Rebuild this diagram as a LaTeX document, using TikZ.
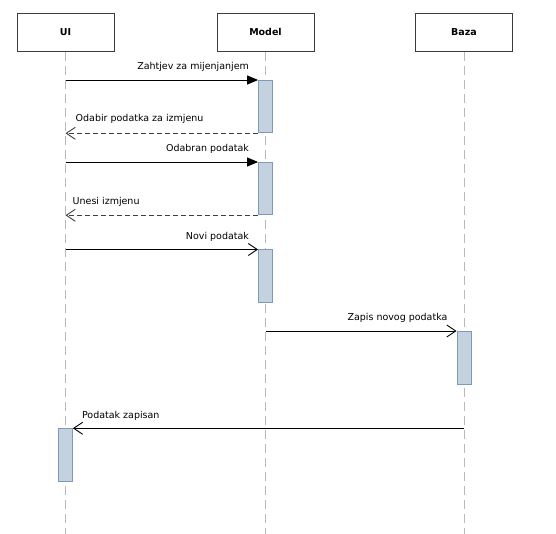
\documentclass[tikz,border=0pt]{standalone}
\usepackage{fontspec}
\setmainfont{DejaVu Sans}
\usetikzlibrary{arrows.meta}
\definecolor{barfill}{RGB}{195,210,222}
\definecolor{bardraw}{RGB}{125,155,185}
\definecolor{lifegray}{RGB}{185,185,185}
\definecolor{boxdraw}{RGB}{60,60,60}
\begin{document}
\begin{tikzpicture}[x=1pt,y=-1pt,
  actor/.style={draw=boxdraw, line width=0.9pt, fill=white, minimum width=97pt, minimum height=38pt, inner sep=0pt, font=\bfseries\fontsize{9.5}{11}\selectfont},
  life/.style={draw=lifegray, line width=0.9pt, dash pattern=on 9pt off 5pt},
  actbar/.style={draw=bardraw, fill=barfill, line width=0.8pt, minimum width=14pt, minimum height=52.5pt, inner sep=0pt, anchor=north},
  msg/.style={draw=black, line width=0.9pt},
  syncmsg/.style={msg, -{Triangle[length=11pt,width=9pt]}},
  asyncmsg/.style={msg, -{Straight Barb[length=9pt,width=12pt]}},
  retmsg/.style={draw=black!75, line width=0.9pt, dash pattern=on 5pt off 3pt, -{Straight Barb[length=9pt,width=12pt]}},
  lbl/.style={inner sep=0pt, font=\fontsize{9.5}{11}\selectfont}
]
\useasboundingbox (0,0) rectangle (556,534);
\coordinate (bot) at (0,534);

\node[actor] (ui) at (65.5,32.3) {UI};
\node[actor] (model) at (265.5,32.3) {Model};
\node[actor] (baza) at (464,32.3) {Baza};

\draw[life] (ui.south) -- (ui.south |- bot);
\draw[life] (model.south) -- (model.south |- bot);
\draw[life] (baza.south) -- (baza.south |- bot);

\node[actbar] (b1) at (model.south |- 0,80) {};
\node[actbar] (b2) at (model.south |- 0,162) {};
\node[actbar] (b3) at (model.south |- 0,249.5) {};
\node[actbar] (b4) at (baza.south |- 0,331) {};
\node[actbar] (b5) at (ui.south |- 0,428.3) {};

% messages
\draw[syncmsg] (ui |- b1.north west) -- (b1.north west);
\node[lbl, anchor=east] (l1) at ([xshift=-9pt,yshift=13.5pt] b1.north west) {Zahtjev za mijenjanjem};

\draw[retmsg] (b1.south west) -- (ui |- b1.south west);
\node[lbl, anchor=west] (l2) at ([xshift=10pt,yshift=14pt] ui |- b1.south west) {Odabir podatka za izmjenu};

\draw[syncmsg] (ui |- b2.north west) -- (b2.north west);
\node[lbl, anchor=east] (l3) at ([xshift=-9pt,yshift=13.5pt] b2.north west) {Odabran podatak};

\draw[retmsg] (b2.south west) -- (ui |- b2.south west);
\node[lbl, anchor=west] (l4) at ([xshift=7pt,yshift=13pt] ui |- b2.south west) {Unesi izmjenu};

\draw[asyncmsg] (ui |- b3.north west) -- (b3.north west);
\node[lbl, anchor=east] (l5) at ([xshift=-9pt,yshift=13pt] b3.north west) {Novi podatak};

\draw[asyncmsg] (model |- b4.north west) -- (b4.north west);
\node[lbl, anchor=east] (l6) at ([xshift=-9pt,yshift=13pt] b4.north west) {Zapis novog podatka};

\draw[asyncmsg] (baza |- b5.north east) -- (b5.north east);
\node[lbl, anchor=west] (l7) at ([xshift=9pt,yshift=12.7pt] b5.north east) {Podatak zapisan};
\end{tikzpicture}
\end{document}
